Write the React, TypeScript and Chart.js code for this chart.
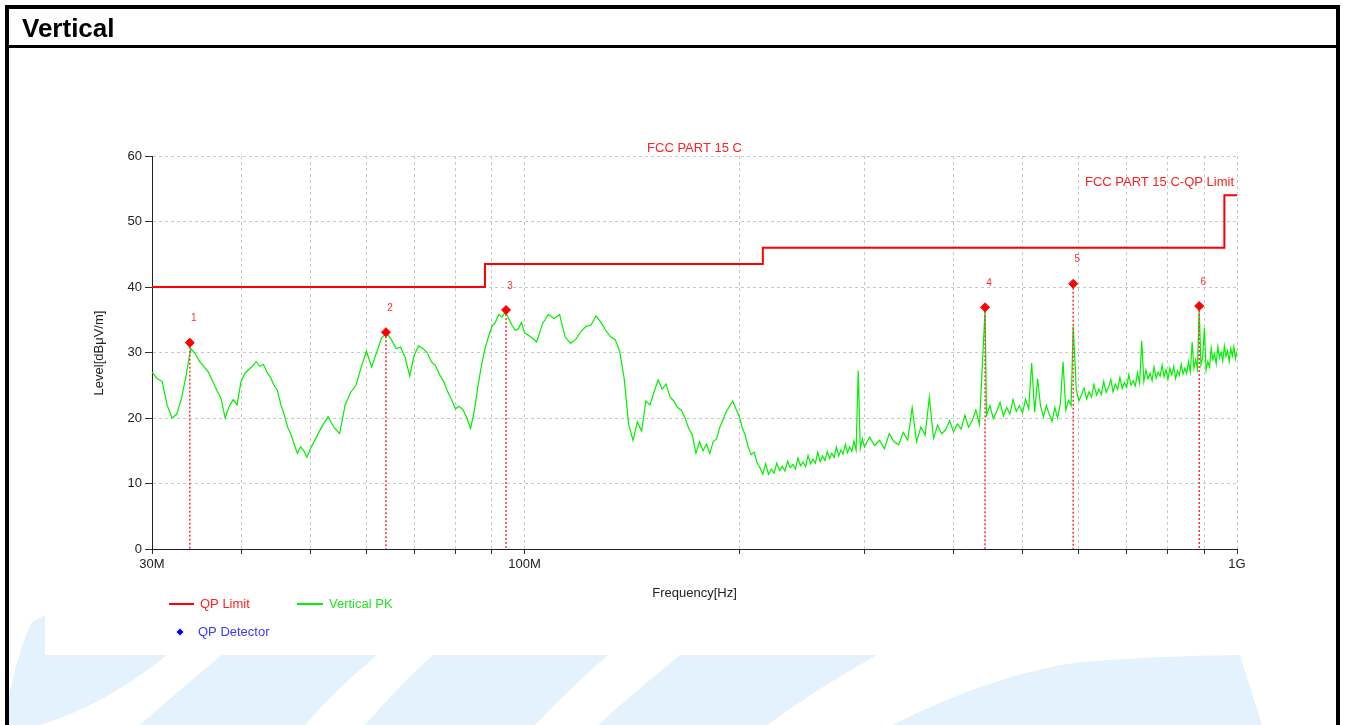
import React, { useEffect, useRef } from "react";
import { Chart, registerables } from "chart.js";

Chart.register(...registerables);

const FONT = '"Liberation Sans", Arial, sans-serif';

// ---- Vertical PK trace (frequency in MHz, level in dBµV/m) ----
const pkFreqA = [30, 30.5, 31, 31.5, 32, 32.5, 33, 33.5, 34, 34.5, 35, 35.5, 36, 36.5, 37, 37.5, 38, 38.5, 39, 39.5, 40, 40.5, 41, 41.5, 42, 42.5, 43, 43.5, 44, 44.5, 45, 45.5, 46, 46.5, 47, 47.5, 48, 48.5, 49, 49.5, 50];
const pkLevelA = [27.0, 26.0, 25.6, 22.0, 20.0, 20.6, 23.0, 26.5, 30.6, 29.8, 28.6, 27.8, 27.0, 25.6, 24.2, 23.0, 20.0, 21.8, 22.8, 22.0, 25.6, 26.8, 27.4, 27.9, 28.6, 27.9, 28.2, 27.0, 26.2, 25.0, 24.2, 22.0, 20.5, 18.6, 17.5, 16.0, 14.6, 15.6, 15.0, 14.0, 15.2];

const pkFreqB = [51, 52, 53, 54, 55, 56, 57, 58, 59, 60, 61, 62, 63, 64, 65, 66, 67, 68, 69, 70, 71, 72, 73, 74, 75, 76, 77, 78, 79, 80, 81, 82, 83, 84, 85, 86, 87, 88, 89, 90, 91, 92, 93, 94, 95, 96, 97, 98, 99, 100];
const pkLevelB = [17.0, 18.8, 20.2, 18.6, 17.6, 22.0, 23.9, 25.0, 27.8, 30.2, 27.8, 30.0, 32.2, 33.0, 32.0, 30.6, 30.8, 29.2, 26.4, 29.6, 31.0, 30.6, 30.0, 28.6, 28.0, 26.6, 25.6, 24.0, 22.8, 21.4, 21.8, 21.2, 20.0, 18.4, 21.0, 24.8, 28.0, 30.6, 32.4, 34.0, 34.6, 35.8, 35.4, 36.2, 35.2, 34.2, 33.4, 33.6, 34.6, 33.0];

const pkFreqC = [102, 104, 106, 108, 110, 112, 114, 116, 118, 120, 122, 124, 126, 128, 130, 132, 134, 136, 138, 140, 142, 144, 146, 148, 150, 152, 154, 156, 158, 160, 162, 164, 166, 168, 170, 172, 174, 176, 178, 180, 182, 184, 186, 188, 190, 192, 194, 196, 198, 200, 202, 204, 206, 208, 210, 212, 214, 216, 218, 220, 222, 224, 226, 228, 230, 232, 234, 236, 238, 240, 242, 244, 246, 248, 250, 252, 254, 256, 258, 260, 262, 264, 266, 268, 270, 272, 274, 276, 278, 280, 282, 284, 286, 288, 290, 292, 294, 296, 298, 300];
const pkLevelC = [32.4, 31.6, 34.4, 35.8, 35.2, 35.8, 32.4, 31.4, 32.0, 33.2, 34.0, 34.2, 35.6, 34.6, 33.4, 32.4, 32.0, 30.2, 26.0, 19.0, 16.6, 19.4, 18.0, 22.6, 22.0, 24.0, 25.8, 24.4, 25.2, 23.2, 22.6, 21.6, 21.2, 20.0, 18.4, 17.4, 14.6, 16.4, 15.0, 16.0, 14.6, 16.4, 16.8, 18.6, 19.8, 21.0, 21.8, 22.6, 21.4, 20.4, 18.6, 17.4, 15.6, 14.4, 14.8, 13.2, 12.4, 11.4, 13.0, 11.4, 12.2, 11.6, 13.1, 12.0, 12.6, 11.9, 13.4, 12.4, 12.9, 12.2, 13.9, 12.7, 13.3, 12.6, 14.3, 13.0, 13.7, 13.1, 14.8, 13.3, 14.2, 13.5, 14.9, 13.8, 14.6, 14.0, 15.6, 14.2, 15.1, 14.5, 16.0, 14.7, 15.6, 14.9, 16.5, 15.1, 27.2, 15.3, 16.8, 15.6];

const pkFreqD = [305, 310, 315, 320, 325, 330, 335, 340, 345, 350, 355, 360, 365, 370, 375, 380, 385, 390, 395, 400, 405, 410, 415, 420, 425, 430, 435, 443, 445, 450, 455, 460, 465, 470, 475, 480, 485, 490, 495, 500, 505, 510, 515, 520, 525, 530, 535, 540, 545, 550, 555, 560, 565, 570, 575, 580, 585, 589, 595, 600, 605, 610, 615, 620, 625, 630, 635, 640, 645, 650, 655, 660, 665, 670, 675, 680, 685, 690, 695, 700, 705, 710, 715, 720, 725, 730, 735, 740, 745, 750, 755, 760, 765, 770, 775, 780, 785, 790, 795, 800, 805, 810, 815, 820, 825, 830, 835, 840, 845, 850, 855, 860, 865, 870, 875, 880, 885, 890, 895, 900, 905, 910, 915, 920, 925, 930, 935, 940, 945, 950, 955, 960, 965, 970, 975, 980, 985, 990, 995, 1000];
const pkLevelD = [
  17.1, 15.8, 16.6, 15.3, 17.6, 16.4, 15.9, 17.8, 16.6, 21.6,
  16.4, 18.6, 17.4, 23.2, 16.9, 18.9, 17.6, 18.2, 19.6, 17.9,
  19.1, 18.3, 20.4, 18.6, 19.6, 21.2, 19.0, 36.6, 20.4, 21.9,
  19.9, 21.0, 22.4, 20.3, 21.6, 20.6, 22.8, 21.0, 21.9, 20.8,
  22.9, 21.4, 28.4, 20.9, 26.0, 21.8, 20.2, 21.9, 20.6, 19.5,
  21.6, 20.0, 22.2, 28.6, 21.2, 22.7, 21.9, 34.0, 24.2, 22.6,
  23.5, 24.6, 22.9, 24.0, 23.2, 25.1, 23.5, 24.4, 23.6, 25.6,
  23.9, 24.6, 25.9, 24.0, 25.2, 24.4, 26.2, 24.5, 25.4, 24.7,
  26.6, 25.0, 25.7, 24.9, 26.9, 25.3, 31.8, 25.6, 27.3, 26.0,
  26.8, 25.7, 27.8, 26.1, 27.0, 26.4, 28.1, 26.3, 27.4, 25.9,
  27.6, 26.6, 27.9, 26.0, 27.2, 26.5, 28.2, 26.7, 27.6, 26.8,
  28.6, 27.0, 31.6, 27.6, 28.9, 27.5, 36.6, 28.1, 29.3, 33.8,
  27.3, 28.6, 27.8, 30.7, 28.9, 29.8, 28.3, 30.9, 29.2, 30.1,
  28.7, 31.0, 29.4, 30.3, 28.6, 30.6, 29.5, 30.9, 29.0, 30.2,
];

// ---- QP limit (stepped) ----
const limitFreq = [30, 88, 88, 216, 216, 960, 960, 1000];
const limitLevel = [40, 40, 43.5, 43.5, 46, 46, 54, 54];

// ---- QP detector markers ----
const markerFreq = [33.9, 63.9, 94.2, 443, 589, 885];
const markerLevel = [31.5, 33.1, 36.5, 36.9, 40.5, 37.1];
const markerLabels = ["1", "2", "3", "4", "5", "6"];

// ---- axes ----
const xTickValues = [30, 40, 50, 60, 70, 80, 90, 100, 200, 300, 400, 500, 600, 700, 800, 900, 1000];
const xTickLabelMap: Record<number, string> = { 30: "30M", 100: "100M", 1000: "1G" };
const yMin = 0;
const yMax = 60;
const yStep = 10;

const chartTitle = "FCC PART 15 C";
const limitName = "FCC PART 15 C-QP Limit";
const xTitle = "Frequency[Hz]";
const yTitle = "Level[dBμV/m]";

const decorPlugin = {
  id: "decor",
  beforeDraw(chart: any) {
    const ctx = chart.ctx as CanvasRenderingContext2D;
    ctx.save();
    ctx.fillStyle = "#e3f2fc";
    // watermark A
    ctx.beginPath();
    ctx.moveTo(8, 725);
    ctx.lineTo(8, 700);
    ctx.quadraticCurveTo(20, 645, 32, 622);
    ctx.lineTo(45, 615);
    ctx.lineTo(45, 655);
    ctx.lineTo(167, 655);
    ctx.quadraticCurveTo(105, 705, 40, 725);
    ctx.closePath();
    ctx.fill();
    // B
    ctx.beginPath();
    ctx.moveTo(222, 655);
    ctx.lineTo(377, 655);
    ctx.quadraticCurveTo(335, 690, 305, 725);
    ctx.lineTo(140, 725);
    ctx.quadraticCurveTo(185, 685, 222, 655);
    ctx.closePath();
    ctx.fill();
    // C
    ctx.beginPath();
    ctx.moveTo(433, 655);
    ctx.lineTo(608, 655);
    ctx.quadraticCurveTo(568, 690, 535, 725);
    ctx.lineTo(365, 725);
    ctx.quadraticCurveTo(397, 688, 433, 655);
    ctx.closePath();
    ctx.fill();
    // D
    ctx.beginPath();
    ctx.moveTo(680, 655);
    ctx.lineTo(877, 655);
    ctx.quadraticCurveTo(818, 688, 767, 725);
    ctx.lineTo(598, 725);
    ctx.quadraticCurveTo(637, 690, 680, 655);
    ctx.closePath();
    ctx.fill();
    // E
    ctx.beginPath();
    ctx.moveTo(1240, 655);
    ctx.lineTo(1262, 725);
    ctx.lineTo(893, 725);
    ctx.quadraticCurveTo(990, 675, 1080, 662);
    ctx.quadraticCurveTo(1160, 656, 1240, 655);
    ctx.closePath();
    ctx.fill();
    ctx.restore();
  },
  afterDatasetDraw(chart: any, args: any) {
    if (args.index !== 2) return;
    const ctx = chart.ctx as CanvasRenderingContext2D;
    const xs = chart.scales.x;
    const ys = chart.scales.y;
    const bottom = ys.getPixelForValue(yMin);
    ctx.save();
    ctx.strokeStyle = "#ff3b3b";
    ctx.lineWidth = 1.6;
    ctx.setLineDash([2, 2]);
    markerFreq.forEach((f, i) => {
      const px = xs.getPixelForValue(f);
      const py = ys.getPixelForValue(markerLevel[i]);
      ctx.beginPath();
      ctx.moveTo(px, py + 4);
      ctx.lineTo(px, bottom);
      ctx.stroke();
    });
    ctx.restore();
  },
  afterDraw(chart: any) {
    const ctx = chart.ctx as CanvasRenderingContext2D;
    const xs = chart.scales.x;
    const ys = chart.scales.y;
    const area = chart.chartArea;
    ctx.save();
    ctx.textBaseline = "middle";
    // marker numbers
    ctx.font = `10px ${FONT}`;
    ctx.fillStyle = "#ff3030";
    ctx.textAlign = "center";
    markerFreq.forEach((f, i) => {
      const px = xs.getPixelForValue(f);
      const py = ys.getPixelForValue(markerLevel[i]);
      ctx.fillText(markerLabels[i], px + 4, py - 24);
    });
    // titles
    ctx.font = `13px ${FONT}`;
    ctx.fillStyle = "#ff2020";
    ctx.textAlign = "center";
    ctx.fillText(chartTitle, (area.left + area.right) / 2, area.top - 8);
    ctx.textAlign = "right";
    ctx.fillText(limitName, area.right - 3, ys.getPixelForValue(54) - 13);
    // axis titles
    ctx.fillStyle = "#222";
    ctx.textAlign = "center";
    ctx.fillText(xTitle, (area.left + area.right) / 2, 593);
    ctx.save();
    ctx.translate(99, 353);
    ctx.rotate(-Math.PI / 2);
    ctx.fillText(yTitle, 0, 0);
    ctx.restore();
    // legend
    ctx.lineWidth = 2;
    ctx.strokeStyle = "#ff0000";
    ctx.beginPath();
    ctx.moveTo(169, 604);
    ctx.lineTo(194, 604);
    ctx.stroke();
    ctx.textAlign = "left";
    ctx.fillStyle = "#ff2020";
    ctx.fillText("QP Limit", 200, 604);
    ctx.strokeStyle = "#00f000";
    ctx.beginPath();
    ctx.moveTo(297, 604);
    ctx.lineTo(323, 604);
    ctx.stroke();
    ctx.fillStyle = "#22e622";
    ctx.fillText("Vertical PK", 329, 604);
    ctx.fillStyle = "#0000ff";
    ctx.beginPath();
    ctx.moveTo(180, 628.5);
    ctx.lineTo(183.5, 632);
    ctx.lineTo(180, 635.5);
    ctx.lineTo(176.5, 632);
    ctx.closePath();
    ctx.fill();
    ctx.fillStyle = "#3a3aff";
    ctx.fillText("QP Detector", 198, 632);
    ctx.restore();
  },
};

export default function App() {
  const ref = useRef<HTMLCanvasElement | null>(null);

  useEffect(() => {
    if (!ref.current) return;
    const pkF = [...pkFreqA, ...pkFreqB, ...pkFreqC, ...pkFreqD];
    const pkL = [...pkLevelA, ...pkLevelB, ...pkLevelC, ...pkLevelD];
    const pkData = pkF.map((f, i) => ({ x: f, y: pkL[i] }));
    const limitData = limitFreq.map((f, i) => ({ x: f, y: limitLevel[i] }));
    const markerData = markerFreq.map((f, i) => ({ x: f, y: markerLevel[i] }));

    const chart = new Chart(ref.current, {
      type: "line",
      data: {
        datasets: [
          {
            label: "QP Detector",
            data: markerData,
            showLine: false,
            pointStyle: "rectRot",
            pointRadius: 4.5,
            pointBackgroundColor: "#ff0000",
            pointBorderColor: "#ff0000",
            pointBorderWidth: 1,
            borderColor: "#ff0000",
            backgroundColor: "#ff0000",
          },
          {
            label: "QP Limit",
            data: limitData,
            borderColor: "#ff0000",
            borderWidth: 2,
            pointRadius: 0,
            tension: 0,
            fill: false,
          },
          {
            label: "Vertical PK",
            data: pkData,
            borderColor: "#00f000",
            borderWidth: 1.2,
            pointRadius: 0,
            tension: 0,
            fill: false,
          },
        ],
      } as any,
      options: {
        animation: false,
        responsive: false,
        maintainAspectRatio: false,
        events: [],
        layout: { padding: { left: 0, right: 109, top: 156, bottom: 0 } },
        plugins: {
          legend: { display: false },
          tooltip: { enabled: false },
          title: { display: false },
        },
        scales: {
          x: {
            type: "logarithmic",
            min: 30,
            max: 1000,
            afterBuildTicks: (s: any) => {
              s.ticks = xTickValues.map((v) => ({ value: v }));
            },
            afterFit: (s: any) => {
              s.height = 176;
            },
            ticks: {
              autoSkip: false,
              maxRotation: 0,
              minRotation: 0,
              padding: 3,
              color: "#222",
              font: { family: FONT, size: 13 },
              callback: (v: any) => xTickLabelMap[Number(v)] ?? "",
            },
            grid: {
              color: "#c8c8c8",
              lineWidth: 1,
              tickLength: 5,
              tickColor: "#333",
              tickBorderDash: [],
            },
            border: { display: true, color: "#222", width: 1, dash: [3, 3] },
          },
          y: {
            min: yMin,
            max: yMax,
            afterFit: (s: any) => {
              s.width = 152;
            },
            ticks: {
              stepSize: yStep,
              padding: 3,
              color: "#222",
              font: { family: FONT, size: 13 },
            },
            grid: {
              color: "#c8c8c8",
              lineWidth: 1,
              tickLength: 7,
              tickColor: "#333",
              tickBorderDash: [],
            },
            border: { display: true, color: "#222", width: 1, dash: [3, 3] },
          },
        },
      } as any,
      plugins: [decorPlugin as any],
    });
    return () => chart.destroy();
  }, []);

  return (
    <div
      style={{
        position: "absolute",
        left: 0,
        top: 0,
        width: 1346,
        height: 725,
        overflow: "hidden",
        background: "#fff",
      }}
    >
      <canvas
        ref={ref}
        width={1346}
        height={725}
        style={{ position: "absolute", left: 0, top: 0, width: 1346, height: 725 }}
      />
      <div
        style={{
          position: "absolute",
          left: 5,
          top: 5,
          width: 1335,
          height: 800,
          boxSizing: "border-box",
          border: "4px solid #000",
          pointerEvents: "none",
        }}
      />
      <div
        style={{
          position: "absolute",
          left: 5,
          top: 45,
          width: 1335,
          height: 3,
          background: "#000",
        }}
      />
      <div
        style={{
          position: "absolute",
          left: 22,
          top: 15,
          font: `bold 26px/26px ${FONT}`,
          color: "#000",
          whiteSpace: "nowrap",
        }}
      >
        Vertical
      </div>
    </div>
  );
}
